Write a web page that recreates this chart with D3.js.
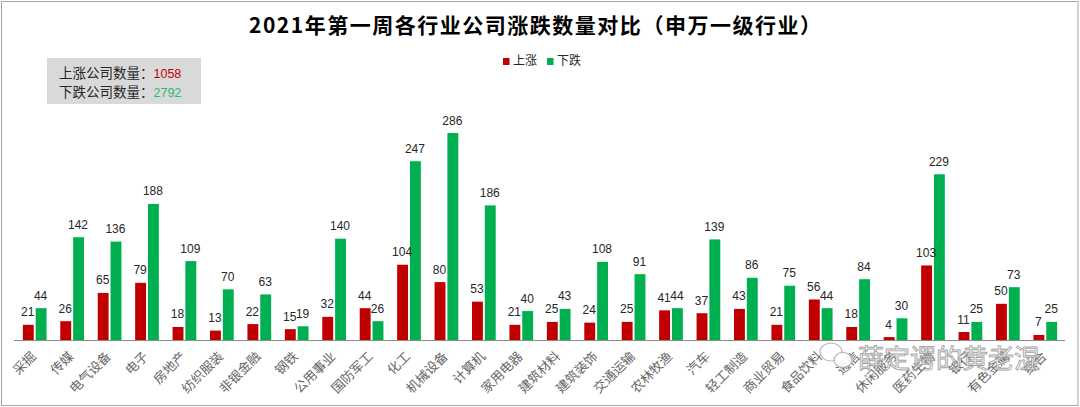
<!DOCTYPE html>
<html>
<head>
<meta charset="utf-8">
<script src="https://cdn.jsdelivr.net/npm/d3@7"></script>
<style>
  html, body { margin: 0; padding: 0; background: #fff; }
  svg { display: block; }
</style>
</head>
<body>
<svg id="chart" width="1080" height="407"></svg>
<script>
const categories = ["采掘","传媒","电气设备","电子","房地产","纺织服装","非银金融","钢铁","公用事业","国防军工","化工","机械设备","计算机","家用电器","建筑材料","建筑装饰","交通运输","农林牧渔","汽车","轻工制造","商业贸易","食品饮料","通信","休闲服务","医药生物","银行","有色金属","综合"];
const upValues = [21,26,65,79,18,13,22,15,32,44,104,80,53,21,25,24,25,41,37,43,21,56,18,4,103,11,50,7];
const downValues = [44,142,136,188,109,70,63,19,140,26,247,286,186,40,43,108,91,44,139,86,75,44,84,30,229,25,73,25];
const seriesNames = ["上涨","下跌"];
const seriesColors = ["#c00000","#00b050"];
const titleText = "2021年第一周各行业公司涨跌数量对比（申万一级行业）";
const upTotalLabel = "上涨公司数量：";
const downTotalLabel = "下跌公司数量：";
const watermarkText = "薛定谔的黄老湿";

const svg = d3.select("#chart");
const W = 1080, H = 407;
const baseY = 340;

// outer border
svg.append("rect").attr("x", 1.5).attr("y", 1.5).attr("width", W - 3.5).attr("height", H - 3)
  .attr("fill", "#fff").attr("stroke", "#a6a6a6").attr("stroke-width", 1);

// title
svg.append("text").attr("x", 535).attr("y", 33).attr("text-anchor", "middle")
  .attr("font-family", "'Noto Sans CJK SC', sans-serif").attr("font-weight", 700)
  .attr("font-size", 21).attr("fill", "#000")
  .attr("textLength", 572).attr("lengthAdjust", "spacing")
  .text(titleText);

const x = d3.scaleBand().domain(categories).range([16, 1064]).paddingInner(0).paddingOuter(0);
const xSub = d3.scaleBand().domain(seriesNames).range([x.bandwidth()/2 - 12.5, x.bandwidth()/2 + 12.5]).paddingInner(0.15).paddingOuter(0.05);
const y = d3.scaleLinear().domain([0, 300]).range([baseY, baseY - 217.1]);

const data = categories.map((c, i) => ({ cat: c, vals: [upValues[i], downValues[i]] }));

const groups = svg.append("g").selectAll("g").data(data).join("g")
  .attr("transform", d => `translate(${x(d.cat)},0)`);

groups.selectAll("rect").data(d => d.vals.map((v, k) => ({ k, v }))).join("rect")
  .attr("x", d => xSub(seriesNames[d.k]))
  .attr("width", xSub.bandwidth())
  .attr("y", d => y(d.v))
  .attr("height", d => baseY - y(d.v))
  .attr("fill", d => seriesColors[d.k]);

groups.selectAll("text.val").data(d => d.vals.map((v, k) => ({ k, v }))).join("text")
  .attr("class", "val")
  .attr("x", d => xSub(seriesNames[d.k]) + xSub.bandwidth()/2 - 0.5)
  .attr("y", d => y(d.v) - 8.5)
  .attr("text-anchor", "middle")
  .attr("font-family", "'Liberation Sans', 'Noto Sans', sans-serif")
  .attr("font-size", 12).attr("fill", "#262626")
  .text(d => d.v);

// x axis
const xAxis = d3.axisBottom(x).tickSize(0).tickPadding(0);
const axG = svg.append("g").attr("transform", `translate(0,${baseY})`).call(xAxis);
axG.select(".domain").attr("stroke", "#8c8c8c").attr("stroke-width", 1.2)
  .attr("d", "M14,0.5H1065");
axG.selectAll(".tick text")
  .attr("font-family", "'Noto Sans CJK SC', sans-serif")
  .attr("font-size", 13).attr("fill", "#666666")
  .attr("text-anchor", "end")
  .attr("dy", "0.35em")
  .attr("transform", "translate(-1,14) rotate(-45)");

// info box
svg.append("rect").attr("x", 47).attr("y", 58).attr("width", 154).attr("height", 46).attr("fill", "#d9d9d9");
const info = svg.append("g").attr("font-family", "'Noto Sans CJK SC', sans-serif").attr("font-size", 13.5);
const t1 = info.append("text").attr("x", 59).attr("y", 78).attr("fill", "#262626");
t1.append("tspan").text(upTotalLabel);
t1.append("tspan").attr("fill", "#c00000").attr("font-family", "'Liberation Sans', sans-serif").attr("font-size", 12.5).text(d3.sum(upValues));
const t2 = info.append("text").attr("x", 59).attr("y", 96.5).attr("fill", "#262626");
t2.append("tspan").text(downTotalLabel);
t2.append("tspan").attr("fill", "#2dbb6a").attr("font-family", "'Liberation Sans', sans-serif").attr("font-size", 12.5).text(d3.sum(downValues));

// legend
const legend = svg.append("g").attr("font-family", "'Noto Sans CJK SC', sans-serif").attr("font-size", 12);
const legX = [503, 547];
seriesNames.forEach((n, i) => {
  legend.append("rect").attr("x", legX[i]).attr("y", 58).attr("width", 6.5).attr("height", 7).attr("fill", seriesColors[i]);
  legend.append("text").attr("x", legX[i] + 10).attr("y", 65).attr("fill", "#262626").text(n);
});

// watermark
const wm = svg.append("g").attr("opacity", 0.9);
wm.append("ellipse").attr("cx", 831).attr("cy", 352).attr("rx", 11).attr("ry", 9)
  .attr("fill", "#fff").attr("stroke", "#b0b0b0").attr("stroke-width", 1.2);
wm.append("ellipse").attr("cx", 843).attr("cy", 360).attr("rx", 9).attr("ry", 7.5)
  .attr("fill", "#fff").attr("stroke", "#b0b0b0").attr("stroke-width", 1.2);
wm.append("text").attr("x", 858).attr("y", 368).attr("font-family", "'Noto Sans CJK SC', sans-serif")
  .attr("font-size", 26).attr("fill", "#fff").attr("fill-opacity", 0.75).attr("stroke", "#9a9a9a").attr("stroke-width", 0.9)
  .text(watermarkText);
</script>
</body>
</html>
